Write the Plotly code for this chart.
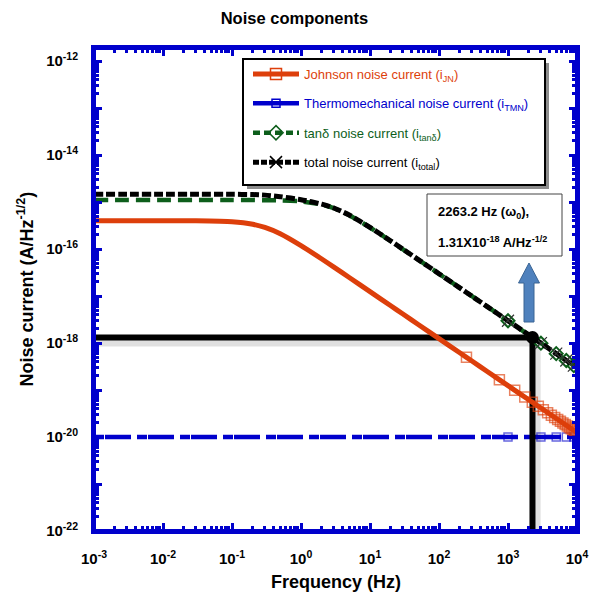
import plotly.graph_objects as go

# ---- data -------------------------------------------------------------
freq = [1e-3, 3e-3, 1e-2, 3e-2, 0.1, 0.2, 0.3, 0.5, 1, 2, 3, 5, 10,
        20, 30, 50, 100, 200, 300, 500, 1000, 2000, 3000, 5000, 1e4]

i_jn = [4.0e-16, 4.0e-16, 4.0e-16, 3.98e-16, 3.81e-16, 3.36e-16, 2.87e-16,
        2.11e-16, 1.18e-16, 6.13e-17, 4.11e-17, 2.48e-17, 1.24e-17, 6.2e-18,
        4.13e-18, 2.48e-18, 1.24e-18, 6.2e-19, 4.13e-19, 2.48e-19, 1.24e-19,
        6.2e-20, 4.13e-20, 2.48e-20, 1.24e-20]

i_tand = [1.1e-15, 1.1e-15, 1.1e-15, 1.1e-15, 1.1e-15, 1.1e-15, 1.09e-15,
          1.08e-15, 1.03e-15, 8.84e-16, 7.36e-16, 5.23e-16, 2.87e-16, 1.47e-16,
          9.86e-17, 5.93e-17, 2.97e-17, 1.485e-17, 9.9e-18, 5.94e-18, 2.97e-18,
          1.485e-18, 9.9e-19, 5.94e-19, 2.97e-19]

i_total = [1.46e-15, 1.46e-15, 1.46e-15, 1.46e-15, 1.46e-15, 1.44e-15, 1.4e-15,
           1.3e-15, 1.12e-15, 9.0e-16, 7.45e-16, 5.28e-16, 2.89e-16, 1.48e-16,
           9.9e-17, 5.95e-17, 2.98e-17, 1.49e-17, 9.92e-18, 5.95e-18, 2.98e-18,
           1.49e-18, 9.92e-19, 5.95e-19, 2.98e-19]

tmn_freq = [1e-3, 1e4]
i_tmn = [1e-20, 1e-20]

# sampled points shown with markers
jn_mark_f = [250, 750, 1250, 1750, 2250, 2750, 3250, 3750, 4250, 4750,
             5250, 5750, 6250, 6750, 7250, 7750, 8250, 8750, 9250, 9750]
jn_mark_i = [4.96e-19, 1.65e-19, 9.9e-20, 7.1e-20, 5.5e-20, 4.5e-20, 3.8e-20,
             3.3e-20, 2.9e-20, 2.6e-20, 2.36e-20, 2.16e-20, 1.98e-20, 1.84e-20,
             1.71e-20, 1.6e-20, 1.5e-20, 1.42e-20, 1.34e-20, 1.27e-20]

hf_mark_f = [1000, 3000, 5000, 7000, 9000]
tmn_mark_i = [1e-20, 1e-20, 1e-20, 1e-20, 1e-20]
tand_mark_i = [2.97e-18, 9.9e-19, 5.94e-19, 4.24e-19, 3.3e-19]
total_mark_i = [2.98e-18, 9.92e-19, 5.95e-19, 4.25e-19, 3.31e-19]

# resonance point
f0 = 2263.2
i0 = 1.31e-18

x_tick_vals = [1e-3, 1e-2, 1e-1, 1e0, 1e1, 1e2, 1e3, 1e4]
x_tick_text = ["10<sup>-3</sup>", "10<sup>-2</sup>", "10<sup>-1</sup>", "10<sup>0</sup>",
               "10<sup>1</sup>", "10<sup>2</sup>", "10<sup>3</sup>", "10<sup>4</sup>"]
y_tick_vals = [1e-22, 1e-21, 1e-20, 1e-19, 1e-18, 1e-17, 1e-16, 1e-15, 1e-14, 1e-13, 1e-12]
y_tick_text = ["10<sup>-22</sup>", "", "10<sup>-20</sup>", "", "10<sup>-18</sup>", "",
               "10<sup>-16</sup>", "", "10<sup>-14</sup>", "", "10<sup>-12</sup>"]

# ---- style ------------------------------------------------------------
ORANGE = "#DD3F0B"
BLUE = "#0000CC"
GREEN = "#0D5E1B"
BLACK = "#000000"
FONT = "Liberation Sans, Arial, sans-serif"

W, H = 589, 596
PL, PR, PT, PB = 94, 577, 48, 531


def px(x):
    return (x - PL) / (PR - PL)


def py(y):
    return (PB - y) / (PB - PT)


fig = go.Figure()

# thermomechanical noise floor
fig.add_trace(go.Scatter(x=tmn_freq, y=i_tmn, mode="lines", showlegend=False,
                         line=dict(color=BLUE, width=4.5, dash="10px,1px,26px,6px")))
fig.add_trace(go.Scatter(x=hf_mark_f, y=tmn_mark_i, mode="markers", showlegend=False,
                         marker=dict(symbol="square-open", size=8, color=BLUE,
                                     opacity=0.6, line=dict(width=1.5))))

# crosshair to the resonance point (with soft shadow)
fig.add_trace(go.Scatter(x=[freq[0], f0], y=[i0 * 0.8, i0 * 0.8], mode="lines",
                         showlegend=False, line=dict(color="rgba(0,0,0,0.12)", width=9)))
fig.add_trace(go.Scatter(x=[f0 * 1.13, f0 * 1.13], y=[1e-22, i0 * 0.8], mode="lines",
                         showlegend=False, line=dict(color="rgba(0,0,0,0.12)", width=9)))
fig.add_trace(go.Scatter(x=[freq[0], f0], y=[i0, i0], mode="lines", showlegend=False,
                         line=dict(color=BLACK, width=6)))
fig.add_trace(go.Scatter(x=[f0, f0], y=[1e-22, i0], mode="lines", showlegend=False,
                         line=dict(color=BLACK, width=6)))

# Johnson noise
fig.add_trace(go.Scatter(x=freq, y=i_jn, mode="lines", showlegend=False,
                         line=dict(color=ORANGE, width=5, shape="spline", smoothing=0.6)))
fig.add_trace(go.Scatter(x=jn_mark_f, y=jn_mark_i, mode="markers", showlegend=False,
                         marker=dict(symbol="square-open", size=10, color=ORANGE,
                                     opacity=0.65, line=dict(width=1.5))))

# tan(delta) noise
fig.add_trace(go.Scatter(x=freq, y=i_tand, mode="lines", showlegend=False,
                         line=dict(color=GREEN, width=4.5, dash="14px,7px",
                                   shape="spline", smoothing=0.6)))
fig.add_trace(go.Scatter(x=hf_mark_f, y=tand_mark_i, mode="markers", showlegend=False,
                         marker=dict(symbol="diamond-open", size=10, color=GREEN,
                                     line=dict(width=2))))

# total noise
fig.add_trace(go.Scatter(x=freq, y=i_total, mode="lines", showlegend=False,
                         line=dict(color=BLACK, width=5, dash="9px,3px",
                                   shape="spline", smoothing=0.6)))
fig.add_trace(go.Scatter(x=hf_mark_f, y=total_mark_i, mode="markers", showlegend=False,
                         marker=dict(symbol="x-thin-open", size=12, color="#333333",
                                     line=dict(width=1.2, color="#333333"))))

# resonance marker
fig.add_trace(go.Scatter(x=[f0], y=[i0], mode="markers", showlegend=False,
                         marker=dict(symbol="circle", size=13, color=BLACK)))

# legend entries
legend_items = [
    ("Johnson noise current (i<sub>JN</sub>)", ORANGE, 5, "solid", "square-open", 11),
    ("Thermomechanical noise current (i<sub>TMN</sub>)", BLUE, 4.5, "solid", "square-open", 8),
    ("tanδ noise current (i<sub>tanδ</sub>)", GREEN, 4.5, "7px,4px", "diamond-open", 11),
    ("total noise current (i<sub>total</sub>)", BLACK, 5, "6px,2px", "x-thin-open", 12),
]
for k, (label, col, lw, dash, sym, ms) in enumerate(legend_items):
    fig.add_trace(go.Scatter(
        x=[None], y=[None], mode="lines+markers",
        name=f'<span style="color:{col}">{label}</span>',
        legendgroup=f"g{k}",
        line=dict(color=col, width=lw, dash=dash),
        marker=dict(symbol=sym, size=ms, color=col, line=dict(width=1.5, color=col))))

shapes = [
    # legend box with drop shadow
    dict(type="rect", xref="paper", yref="paper", x0=px(247), x1=px(549), y0=py(63), y1=py(189),
         fillcolor="#8c8c8c", line=dict(width=0), layer="above"),
    dict(type="rect", xref="paper", yref="paper", x0=px(243), x1=px(545), y0=py(59), y1=py(185),
         fillcolor="white", line=dict(color=BLACK, width=2), layer="above"),
    # value box
    dict(type="rect", xref="paper", yref="paper", x0=px(427), x1=px(562), y0=py(194), y1=py(256),
         fillcolor="white", line=dict(color="#444444", width=1), layer="above"),
    # upward arrow
    dict(type="path", xref="paper", yref="paper", layer="above",
         path=(f"M{px(529)},{py(263)} L{px(539.5)},{py(283)} L{px(534)},{py(283)} "
               f"L{px(534)},{py(322)} L{px(524)},{py(322)} L{px(524)},{py(283)} "
               f"L{px(518.5)},{py(283)} Z"),
         fillcolor="#4F81BD", line=dict(color="#3A6494", width=1)),
    # plot frame
    dict(type="rect", xref="paper", yref="paper", x0=0, x1=1, y0=0, y1=1,
         line=dict(color=BLUE, width=4), layer="above"),
]

annotations = [
    dict(xref="paper", yref="paper", x=px(436), y=py(212), xanchor="left", yanchor="middle",
         text=f"<b>{f0} Hz (ω<sub>0</sub>),</b>", showarrow=False,
         font=dict(family=FONT, size=13, color=BLACK)),
    dict(xref="paper", yref="paper", x=px(436), y=py(242), xanchor="left", yanchor="middle",
         text=f"<b>{i0 * 1e18:.2f}X10<sup>-18</sup> A/Hz<sup>-1/2</sup></b>", showarrow=False,
         font=dict(family=FONT, size=13, color=BLACK)),
    dict(xref="paper", yref="paper", x=0.5, y=py(582), xanchor="center", yanchor="middle",
         text="<b>Frequency (Hz)</b>", showarrow=False,
         font=dict(family=FONT, size=18, color=BLACK)),
    dict(xref="paper", yref="paper", x=px(26), y=0.5, xanchor="center", yanchor="middle",
         text="<b>Noise current (A/Hz<sup>-1/2</sup>)</b>", showarrow=False, textangle=-90,
         font=dict(family=FONT, size=18, color=BLACK)),
]

minor_x = [m * 10 ** e for e in range(-3, 4) for m in range(2, 10)]
minor_y = [m * 10.0 ** e for e in range(-22, -12) for m in range(2, 10)]

axis_common = dict(
    type="log", showgrid=False, zeroline=False,
    showline=True, linecolor=BLUE, linewidth=3, mirror="allticks",
    ticks="inside", ticklen=8, tickwidth=3, tickcolor=BLUE,
    tickfont=dict(family=FONT, size=15, color=BLACK, weight="bold"),
)

fig.update_layout(
    width=W, height=H,
    margin=dict(l=PL, r=W - PR, t=PT, b=H - PB, pad=0, autoexpand=False),
    paper_bgcolor="white", plot_bgcolor="white",
    title=dict(text="<b>Noise components</b>", xref="container", x=0.5, xanchor="center",
               yref="container", y=1 - 18 / H, yanchor="middle",
               font=dict(family=FONT, size=16.5, color=BLACK)),
    xaxis=dict(**axis_common, range=[-3, 4], tickmode="array",
               tickvals=x_tick_vals, ticktext=x_tick_text, ticklabelstandoff=12,
               minor=dict(ticks="inside", ticklen=5, tickwidth=3, tickcolor=BLUE,
                          tickmode="array", tickvals=minor_x)),
    yaxis=dict(**axis_common, range=[-22, -22 + (PB - PT) / 47.0], tickmode="array",
               tickvals=y_tick_vals, ticktext=y_tick_text, ticklabelstandoff=10,
               minor=dict(ticks="inside", ticklen=5, tickwidth=3, tickcolor=BLUE,
                          tickmode="array", tickvals=minor_y)),
    legend=dict(x=px(248), y=py(59), xanchor="left", yanchor="top", itemwidth=46,
                bgcolor="rgba(0,0,0,0)", borderwidth=0, tracegroupgap=9.5,
                font=dict(family=FONT, size=13, color=BLACK)),
    shapes=shapes,
    annotations=annotations,
)

fig.write_html("out.html")
